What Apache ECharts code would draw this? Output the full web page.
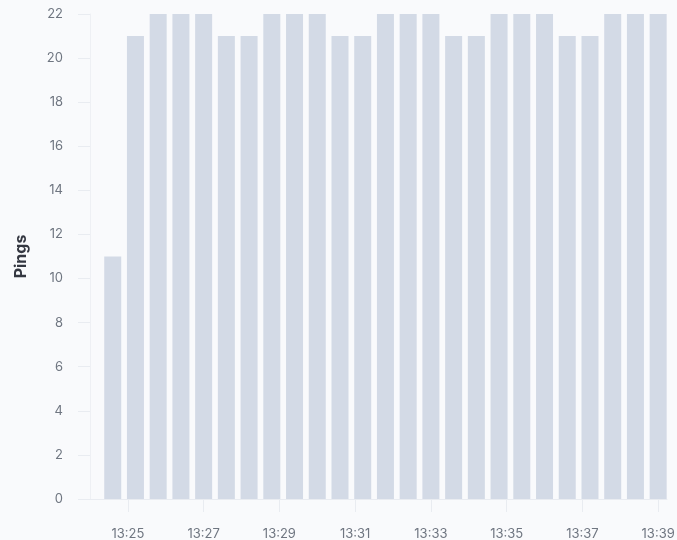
<!DOCTYPE html>
<html>
<head>
<meta charset="utf-8">
<script src="https://cdn.jsdelivr.net/npm/echarts@6/dist/echarts.min.js"></script>
<style>
html,body{margin:0;padding:0;background:#f9fafc;}
#c{width:677px;height:540px;}
</style>
</head>
<body>
<div id="c"></div>
<script>
// Data
var startTime = [13, 24, 36];          // first bucket (h, m, s)
var bucketSeconds = 36;                 // bucket width in seconds
var pings = [11, 21, 22, 22, 22, 21, 21, 22, 22, 22, 21, 21, 22, 22, 22, 21, 21, 22, 22, 22, 21, 21, 22, 22, 22];
var xTickLabels = ['13:25', '13:27', '13:29', '13:31', '13:33', '13:35', '13:37', '13:39'];
var yTicks = [0, 2, 4, 6, 8, 10, 12, 14, 16, 18, 20, 22];

function t(h, m, s) { return new Date(2024, 0, 1, h, m, s || 0).getTime(); }
var t0 = t(startTime[0], startTime[1], startTime[2]);
var seriesData = pings.map(function (v, i) { return [t0 + i * bucketSeconds * 1000, v]; });
var tickValues = xTickLabels.map(function (s) { var p = s.split(':'); return t(+p[0], +p[1], 0); });

var chart = echarts.init(document.getElementById('c'));
var font = 'Inter, "Liberation Sans", sans-serif';
chart.setOption({
  backgroundColor: '#f9fafc',
  animation: false,
  grid: { left: 90, right: 10, top: 14, bottom: 41, outerBoundsMode: 'none', containLabel: false },
  xAxis: {
    type: 'value',
    min: t(13, 24, 0),
    max: t(13, 39, 14),
    axisLine: { show: true, lineStyle: { color: '#e9ecf1', width: 1 } },
    axisTick: { show: true, length: 13, customValues: tickValues, lineStyle: { color: '#e9ecf1' } },
    axisLabel: {
      customValues: tickValues,
      formatter: function (v) { return echarts.time.format(v, '{HH}:{mm}', false); },
      color: '#6f7681', fontSize: 13, fontFamily: font, margin: 29
    },
    splitLine: { show: false }
  },
  yAxis: {
    type: 'value',
    min: yTicks[0],
    max: yTicks[yTicks.length - 1],
    interval: yTicks[1] - yTicks[0],
    name: 'Pings',
    nameLocation: 'middle',
    nameGap: 61,
    nameTextStyle: { color: '#343741', fontSize: 16, fontWeight: 'bold', fontFamily: font },
    axisLine: { show: true, lineStyle: { color: '#eef0f4' } },
    axisTick: { show: true, length: 12, lineStyle: { color: '#e9ecf1' } },
    axisLabel: { color: '#6f7681', fontSize: 13, fontFamily: font, margin: 27 },
    splitLine: { show: false }
  },
  series: [{
    type: 'bar',
    data: seriesData,
    barWidth: 17,
    itemStyle: { color: '#d3dae6' }
  }]
});
</script>
</body>
</html>
